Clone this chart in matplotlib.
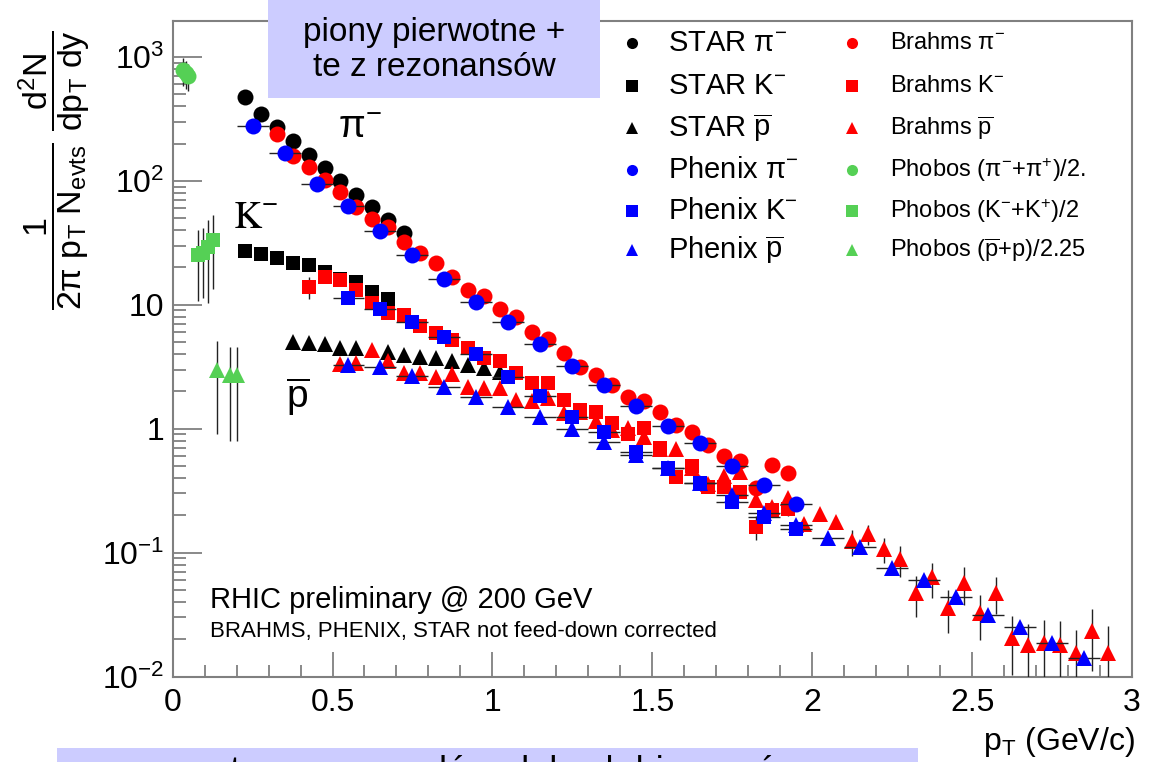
import matplotlib
matplotlib.use('Agg')
import matplotlib.pyplot as plt
from matplotlib.lines import Line2D
from matplotlib.patches import Rectangle
from matplotlib.ticker import LogLocator, NullFormatter, MultipleLocator

plt.rcParams['font.family'] = ['Liberation Sans', 'DejaVu Sans']
plt.rcParams['mathtext.fontset'] = 'custom'
plt.rcParams['mathtext.rm'] = 'Liberation Sans'
plt.rcParams['mathtext.it'] = 'Liberation Sans:italic'
plt.rcParams['mathtext.default'] = 'regular'

# ---- data (pT in GeV/c, yield) ----
star_pi_x = [0.225, 0.275, 0.325, 0.375, 0.425, 0.475, 0.525, 0.575, 0.625, 0.675, 0.725]
star_pi_y = [475, 347, 272, 210, 162, 127, 100, 77, 62, 48.5, 38]

star_k_x = [0.225, 0.275, 0.325, 0.375, 0.425, 0.475, 0.525, 0.575, 0.625, 0.675]
star_k_y = [27.2, 25.8, 23.9, 21.8, 21.0, 18.5, 16.2, 15.3, 12.7, 11.2]

star_pbar_x = [0.375, 0.425, 0.475, 0.525, 0.575, 0.675, 0.725, 0.775, 0.825, 0.875, 0.925, 0.975, 1.025]
star_pbar_y = [5.03, 4.94, 4.85, 4.5, 4.5, 4.18, 3.95, 3.81, 3.74, 3.53, 3.28, 3.1, 2.88]

brahms_pi_x = [0.325, 0.375, 0.425, 0.475, 0.525, 0.575, 0.625, 0.675, 0.725, 0.775,
               0.825, 0.875, 0.925, 0.975, 1.025, 1.075, 1.125, 1.175, 1.225, 1.275,
               1.325, 1.375, 1.425, 1.475, 1.525, 1.575, 1.625, 1.675, 1.725, 1.775,
               1.825, 1.875, 1.925]
brahms_pi_y = [239, 159, 130, 102, 81.5, 61.7, 49.4, 42.6, 32.2, 26.3,
               21.8, 16.8, 13.2, 11.8, 9.3, 8.0, 6.05, 5.32, 4.10, 3.16,
               2.72, 2.26, 1.81, 1.68, 1.37, 1.08, 0.946, 0.743, 0.606, 0.552,
               0.334, 0.513, 0.442]

brahms_k_x = [0.425, 0.475, 0.525, 0.575, 0.625, 0.675, 0.725, 0.775, 0.825, 0.875,
              0.925, 0.975, 1.025, 1.075, 1.125, 1.175, 1.225, 1.275, 1.325, 1.375,
              1.425, 1.475, 1.525, 1.575, 1.625, 1.675, 1.725, 1.775, 1.825, 1.875,
              1.925]
brahms_k_y = [14.0, 16.8, 15.9, 13.2, 10.4, 8.62, 8.3, 6.77, 5.94, 5.22,
              4.5, 3.74, 3.53, 2.83, 2.35, 2.35, 1.71, 1.42, 1.37, 1.12,
              0.91, 1.02, 0.70, 0.41, 0.50, 0.34, 0.34, 0.31, 0.162, 0.222,
              0.226]
brahms_k_err = [2.9, 0.6, 0.5, 0.4, 0.3, 0.25, 0.25, 0.2, 0.18, 0.16,
                0.14, 0.12, 0.11, 0.09, 0.08, 0.08, 0.06, 0.05, 0.05, 0.04,
                0.04, 0.04, 0.03, 0.03, 0.03, 0.025, 0.025, 0.025, 0.035, 0.03,
                0.03]

brahms_pbar_x = [0.525, 0.575, 0.625, 0.675, 0.725, 0.775, 0.825, 0.875, 0.925, 0.975,
                 1.025, 1.075, 1.125, 1.175, 1.225, 1.275, 1.325, 1.375, 1.425, 1.475,
                 1.525, 1.575, 1.625, 1.675, 1.725, 1.775, 1.825, 1.875, 1.925, 1.975,
                 2.025, 2.075, 2.125, 2.175, 2.225, 2.275, 2.325, 2.375, 2.425, 2.475,
                 2.525, 2.575, 2.625, 2.675, 2.725, 2.775, 2.825, 2.875, 2.925]
brahms_pbar_y = [3.34, 3.41, 4.34, 3.53, 2.83, 2.83, 2.63, 2.78, 2.18, 2.14,
                 2.14, 1.71, 1.68, 1.78, 1.35, 1.37, 1.16, 0.98, 1.02, 0.86,
                 0.68, 0.69, 0.485, 0.36, 0.418, 0.45, 0.267, 0.235, 0.278, 0.171,
                 0.206, 0.175, 0.123, 0.142, 0.106, 0.088, 0.0476, 0.063, 0.036, 0.057,
                 0.0328, 0.0476, 0.0206, 0.0181, 0.0188, 0.0178, 0.0156, 0.0231, 0.0156]
brahms_pbar_err = [0.35, 0.2, 0.2, 0.2, 0.15, 0.15, 0.12, 0.12, 0.1, 0.1,
                   0.1, 0.08, 0.08, 0.08, 0.07, 0.07, 0.06, 0.05, 0.05, 0.05,
                   0.04, 0.04, 0.03, 0.03, 0.03, 0.03, 0.025, 0.02, 0.02, 0.015,
                   0.015, 0.015, 0.03, 0.026, 0.024, 0.024, 0.0175, 0.02, 0.0135, 0.019,
                   0.013, 0.0155, 0.0104, 0.0085, 0.010, 0.010, 0.008, 0.012, 0.010]

phenix_pi_x = [0.25, 0.35, 0.45, 0.55, 0.65, 0.75, 0.85, 0.95, 1.05, 1.15,
               1.25, 1.35, 1.45, 1.55, 1.65, 1.75, 1.85, 1.95]
phenix_pi_y = [278, 168, 94.5, 62.9, 39.5, 25.3, 16.2, 10.6, 7.3, 4.85,
               3.22, 2.26, 1.53, 1.06, 0.77, 0.50, 0.353, 0.248]

phenix_k_x = [0.55, 0.65, 0.75, 0.85, 0.95, 1.05, 1.15, 1.25, 1.35, 1.45,
              1.55, 1.65, 1.75, 1.85, 1.95]
phenix_k_y = [11.4, 9.29, 7.29, 5.52, 4.03, 2.63, 1.85, 1.25, 0.946, 0.653,
              0.485, 0.367, 0.258, 0.195, 0.156]

phenix_pbar_x = [0.55, 0.65, 0.75, 0.85, 0.95, 1.05, 1.15, 1.25, 1.35, 1.45,
                 1.55, 1.65, 1.75, 1.85, 1.95, 2.05, 2.15, 2.25, 2.35, 2.45,
                 2.55, 2.65, 2.75, 2.85]
phenix_pbar_y = [3.28, 3.16, 2.68, 2.18, 1.81, 1.50, 1.25, 1.0, 0.785, 0.617,
                 0.485, 0.367, 0.294, 0.210, 0.168, 0.132, 0.110, 0.0757, 0.0606, 0.0442,
                 0.0316, 0.0253, 0.0188, 0.0140]
phenix_xerr = 0.05

phobos_pi_x = [0.032, 0.042, 0.048]
phobos_pi_y = [785, 743, 703]
phobos_pi_err = [200, 190, 170]
phobos_k_x = [0.08, 0.095, 0.11, 0.125]
phobos_k_y = [25.3, 26.3, 29.4, 33.4]
phobos_k_err = [14.5, 15, 19, 20]
phobos_p_x = [0.14, 0.178, 0.2]
phobos_p_y = [3.0, 2.7, 2.7]
phobos_p_err = [2.1, 1.9, 1.9]

yticks = [1e-2, 1e-1, 1, 10, 1e2, 1e3]
ytick_labels = ['$10^{-2}$', '$10^{-1}$', '1', '10', '$10^{2}$', '$10^{3}$']
xticks = [0, 0.5, 1, 1.5, 2, 2.5, 3]
xtick_labels = ['0', '0.5', '1', '1.5', '2', '2.5', '3']

RED = '#ff0000'
BLUE = '#0000ff'
GREEN = '#55d055'
LAV = '#ccccff'
W, H = 1154, 762


def fx(px):
    return px / W


def fy(py):
    return 1 - py / H


fig = plt.figure(figsize=(W / 100, H / 100), dpi=100)
ax = fig.add_axes([fx(172.6), fy(676.5), fx(1132) - fx(172.6), fy(21) - fy(676.5)])

ms_c, ms_s, ms_t = 11.5, 10.5, 12
ebkw = dict(ecolor='#222222', elinewidth=1.0, capsize=2.5, capthick=1.0, linestyle='none')

# black (STAR)
ax.plot(star_pi_x, star_pi_y, 'o', color='k', ms=ms_c, mew=0, zorder=2)
ax.plot(star_k_x, star_k_y, 's', color='k', ms=ms_s, mew=0, zorder=2)
ax.plot(star_pbar_x, star_pbar_y, '^', color='k', ms=ms_t, mew=0, zorder=2)
# red (Brahms)
ax.plot(brahms_pi_x, brahms_pi_y, 'o', color=RED, ms=ms_c, mew=0, zorder=3)
ax.errorbar(brahms_k_x, brahms_k_y, yerr=brahms_k_err, fmt='s', color=RED, ms=ms_s, mew=0, zorder=3, **ebkw)
ax.errorbar(brahms_pbar_x, brahms_pbar_y, yerr=brahms_pbar_err, fmt='^', color=RED, ms=ms_t, mew=0, zorder=3, **ebkw)
# blue (Phenix)
ax.errorbar(phenix_pi_x, phenix_pi_y, xerr=phenix_xerr, fmt='o', color=BLUE, ms=ms_c, mew=0, zorder=4, **ebkw)
ax.errorbar(phenix_k_x, phenix_k_y, xerr=phenix_xerr, fmt='s', color=BLUE, ms=ms_s, mew=0, zorder=4, **ebkw)
ax.errorbar(phenix_pbar_x, phenix_pbar_y, xerr=phenix_xerr, fmt='^', color=BLUE, ms=ms_t, mew=0, zorder=4, **ebkw)
# green (Phobos)
ax.errorbar(phobos_pi_x, phobos_pi_y, yerr=phobos_pi_err, fmt='o', color=GREEN, ms=ms_c, mew=0, zorder=5, **ebkw)
ax.errorbar(phobos_k_x, phobos_k_y, yerr=phobos_k_err, fmt='s', color=GREEN, ms=ms_s, mew=0, zorder=5, **ebkw)
ax.errorbar(phobos_p_x, phobos_p_y, yerr=phobos_p_err, fmt='^', color=GREEN, ms=ms_t, mew=0, zorder=5, **ebkw)

ax.set_yscale('log')
ax.set_xlim(0, 3)
ax.set_ylim(0.01, 1950)
ax.set_yticks(yticks, ytick_labels)
ax.set_xticks(xticks, xtick_labels)
ax.yaxis.set_minor_locator(LogLocator(base=10, subs=range(2, 10), numticks=20))
ax.yaxis.set_minor_formatter(NullFormatter())
ax.xaxis.set_minor_locator(MultipleLocator(0.1))

frame_col = '#808080'
for s in ax.spines.values():
    s.set_color(frame_col)
    s.set_linewidth(1.5)
ax.tick_params(which='both', direction='in', color=frame_col, width=1.3, top=False, right=False)
ax.tick_params(axis='y', which='major', length=21, pad=6, labelsize=23)
ax.tick_params(axis='y', which='minor', length=9.5)
ax.tick_params(axis='x', which='major', length=18, pad=8, labelsize=23)
ax.tick_params(axis='x', which='minor', length=9)

# species labels
ax.text(0.585, 268, r'$\pi^{-}$', fontsize=28, math_fontfamily='stix', ha='center', va='center')
ax.text(0.26, 50, r'$\mathrm{K}^{-}$', fontsize=28, math_fontfamily='stix', ha='center', va='center')
ax.text(0.39, 1.8, r'$\overline{\mathrm{p}}$', fontsize=28, ha='center', va='center')

# axis titles
fig.text(fx(55), fy(170), r'$\dfrac{1}{2\pi\ p_{T}\ N_{evts}}\ \dfrac{d^{2}N}{dp_{T}\ dy}$',
         rotation=90, fontsize=24.5, ha='center', va='center')
fig.text(fx(1135), fy(742), r'$p_{T}$ (GeV/c)', fontsize=23, ha='right', va='center')

# notes
fig.text(fx(210), fy(600), 'RHIC preliminary @ 200 GeV', fontsize=21, va='center')
fig.text(fx(210), fy(631), 'BRAHMS, PHENIX, STAR not feed-down corrected', fontsize=16, va='center')

# legend (two columns)
rows = [43, 86, 128, 170, 211, 250]
left_items = [('o', 'k', r'STAR $\pi^{-}$'), ('s', 'k', r'STAR K$^{-}$'), ('^', 'k', r'STAR $\overline{p}$'),
              ('o', BLUE, r'Phenix $\pi^{-}$'), ('s', BLUE, r'Phenix K$^{-}$'), ('^', BLUE, r'Phenix $\overline{p}$')]
right_items = [('o', RED, r'Brahms $\pi^{-}$'), ('s', RED, r'Brahms K$^{-}$'), ('^', RED, r'Brahms $\overline{p}$'),
               ('o', GREEN, r'Phobos ($\pi^{-}$+$\pi^{+}$)/2.'), ('s', GREEN, r'Phobos (K$^{-}$+K$^{+}$)/2'),
               ('^', GREEN, r'Phobos ($\overline{p}$+p)/2.25')]
for r, (m, c, lab) in zip(rows, left_items):
    fig.add_artist(Line2D([fx(632)], [fy(r)], marker=m, color=c, ms=8, mew=0, transform=fig.transFigure))
    fig.text(fx(668), fy(r), lab, fontsize=21, va='center')
for r, (m, c, lab) in zip(rows, right_items):
    fig.add_artist(Line2D([fx(852)], [fy(r)], marker=m, color=c, ms=8, mew=0, transform=fig.transFigure))
    fig.text(fx(890), fy(r), lab, fontsize=17, va='center')

# lavender boxes
fig.add_artist(Rectangle((fx(268), fy(98)), fx(600) - fx(268), fy(0) - fy(98),
                         transform=fig.transFigure, facecolor=LAV, edgecolor='none', zorder=6))
fig.text(fx(434), fy(50), 'piony pierwotne +\nte z rezonansów', fontsize=24, ha='center', va='center',
         linespacing=1.15, zorder=7)
fig.add_artist(Rectangle((fx(57), fy(762)), fx(918) - fx(57), fy(748) - fy(762),
                         transform=fig.transFigure, facecolor=LAV, edgecolor='none', zorder=6))
fig.text(fx(490), fy(755), 'protony z rozpadów słabych hiperonów', fontsize=26, ha='center', va='top',
         zorder=7)

fig.savefig('out.png', dpi=100)
